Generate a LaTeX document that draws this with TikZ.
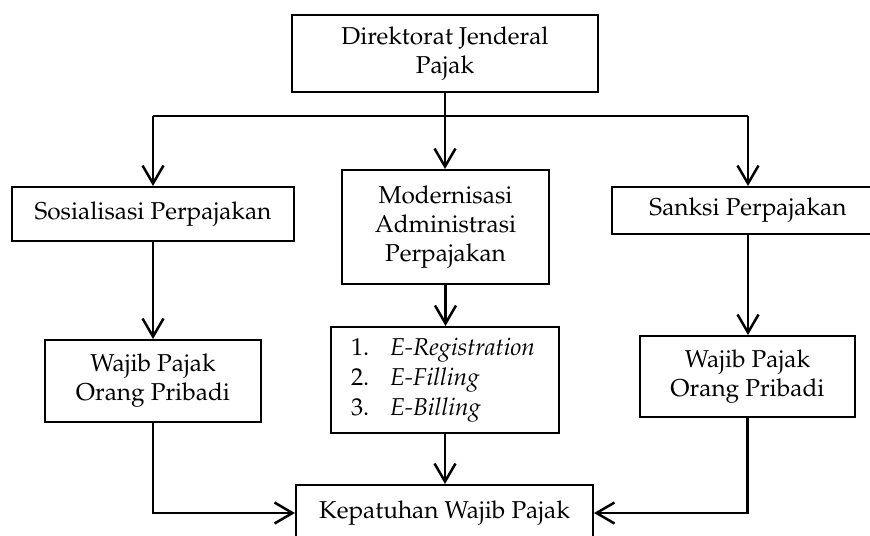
\documentclass[tikz,border=0pt]{standalone}
\usepackage[T1]{fontenc}
\usepackage{mathpazo}
\usetikzlibrary{arrows.meta}
\begin{document}
\begin{tikzpicture}[x=0.5pt,y=-0.5pt,
  box/.style={draw=black, line width=1pt, inner sep=0pt, align=center,
    font=\fontsize{12.2}{14.5}\selectfont, text=black},
  conn/.style={draw=black, line width=1.25pt},
  arr/.style={conn, -{Straight Barb[length=9pt,width=10.5pt]}}]
\useasboundingbox (0,0) rectangle (870,535);
% boxes
\node[box, minimum width=153pt, minimum height=38.5pt] (top) at (445,53.5)
  {Direktorat Jenderal\\Pajak};
\node[box, minimum width=141pt, minimum height=27pt] (sos) at (153,214)
  {Sosialisasi Perpajakan};
\node[box, minimum width=103.5pt, minimum height=57pt] (mod) at (445.5,227)
  {Modernisasi\\Administrasi\\Perpajakan};
\node[box, minimum width=136pt, minimum height=23.5pt] (sank) at (748,210.5)
  {Sanksi Perpajakan};
\node[box, minimum width=108pt, minimum height=41pt] (wl) at (153,381)
  {Wajib Pajak\\Orang Pribadi};
\node[box, minimum width=114pt, minimum height=53pt, text width=94pt,
  inner xsep=10pt, align=left,
  font=\fontsize{12.2}{15}\selectfont] (e) at (445,380)
  {\makebox[19.5pt][l]{1.}\textit{E-Registration}\\
   \makebox[19.5pt][l]{2.}\textit{E-Filling}\\
   \makebox[19.5pt][l]{3.}\textit{E-Billing}};
\node[box, minimum width=107.5pt, minimum height=40.5pt] (wr) at (747.5,376.5)
  {Wajib Pajak\\Orang Pribadi};
\node[box, minimum width=148.5pt, minimum height=28pt] (kep) at (444.5,513)
  {Kepatuhan Wajib Pajak};
% connectors
\coordinate (jl) at (153,116);
\coordinate (jr) at (748,116);
\draw[conn] (jl) -- (jr);
\draw[arr] (top.south) -- (top.south |- mod.north);
\draw[arr] (jl) -- (sos.north);
\draw[arr] (jr) -- (sank.north);
\draw[arr] (sos.south) -- (wl.north);
\draw[arr] (sank.south) -- (sank.south |- wr.north);
\draw[arr] (mod.south) -- (mod.south |- e.north);
\draw[arr] (e.south) -- (e.south |- kep.north);
\draw[arr] (wl.south) |- (kep.west);
\draw[arr] (wr.south) |- (kep.east);
\end{tikzpicture}
\end{document}
